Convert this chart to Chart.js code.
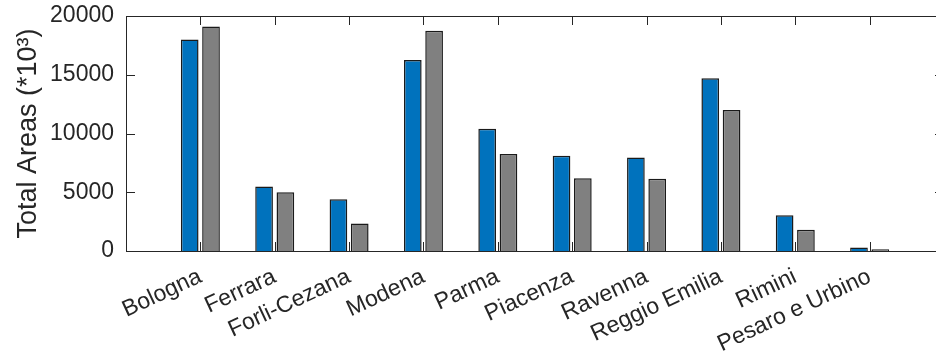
<!DOCTYPE html>
<html>
<head>
<meta charset="utf-8">
<script src="https://cdn.jsdelivr.net/npm/chart.js@4/dist/chart.umd.min.js"></script>
<style>
  html, body { margin: 0; padding: 0; overflow: hidden; background: #fff; }
  #wrap { width: 960px; height: 353px; }
</style>
</head>
<body>
<div id="wrap"><canvas id="areaChart" width="960" height="353"></canvas></div>
<script>
// total areas per province, in thousands
const provinces = ['Bologna', 'Ferrara', 'Forli-Cezana', 'Modena', 'Parma', 'Piacenza', 'Ravenna', 'Reggio Emilia', 'Rimini', 'Pesaro e Urbino'];
const areasBlue = [18000, 5500, 4400, 16250, 10400, 8100, 7950, 14700, 3050, 300];
const areasGray = [19100, 5000, 2350, 18750, 8250, 6200, 6150, 12000, 1800, 150];
const yTicks = [0, 5000, 10000, 15000, 20000];

const axisColor = '#262626';
const fontFamily = "'Liberation Sans', Arial, sans-serif";
const tickLen = 9;

// an empty slot on each side puts the groups at 1..10 on a 0..11 axis
const labels = [''].concat(provinces, ['']);
const pad = arr => [null].concat(arr, [null]);

// box around the plot with inward tick marks
const boxTicks = {
  id: 'boxTicks',
  afterDraw(chart) {
    const { ctx, chartArea: a, scales: { x, y } } = chart;
    ctx.save();
    ctx.strokeStyle = axisColor;
    ctx.lineWidth = 1;
    ctx.strokeRect(a.left + 0.5, a.top + 0.5, a.right - a.left, a.bottom - a.top);
    ctx.beginPath();
    for (let i = 1; i <= provinces.length; i++) {
      const px = Math.round(x.getPixelForValue(i)) + 0.5;
      ctx.moveTo(px, a.top); ctx.lineTo(px, a.top + tickLen);
      ctx.moveTo(px, a.bottom); ctx.lineTo(px, a.bottom - tickLen);
    }
    yTicks.forEach(v => {
      const py = Math.round(y.getPixelForValue(v)) + 0.5;
      ctx.moveTo(a.left, py); ctx.lineTo(a.left + tickLen, py);
      ctx.moveTo(a.right, py); ctx.lineTo(a.right - tickLen, py);
    });
    ctx.stroke();
    ctx.restore();
  }
};

// keep label overhang from pushing the plot area around
const noPadding = s => {
  s.paddingLeft = 0; s.paddingRight = 0;
  s.paddingTop = 0; s.paddingBottom = 0;
};

new Chart(document.getElementById('areaChart'), {
  type: 'bar',
  data: {
    labels: labels,
    datasets: [{
      data: pad(areasBlue),
      backgroundColor: '#0072BD',
      borderColor: '#1a1a1a',
      borderWidth: 1.5,
      categoryPercentage: 0.573,
      barPercentage: 0.83
    }, {
      data: pad(areasGray),
      backgroundColor: '#808080',
      borderColor: '#1a1a1a',
      borderWidth: 1.5,
      categoryPercentage: 0.573,
      barPercentage: 0.83
    }]
  },
  options: {
    responsive: false,
    animation: false,
    layout: { padding: { top: 16, right: 16, left: 0, bottom: 0 } },
    plugins: {
      legend: { display: false },
      tooltip: { enabled: false }
    },
    scales: {
      x: {
        offset: false,
        grid: { display: false, drawTicks: false },
        border: { display: false },
        ticks: {
          autoSkip: false,
          minRotation: 25,
          maxRotation: 25,
          padding: 12,
          color: axisColor,
          font: { family: fontFamily, size: 23 }
        },
        afterFit: s => { noPadding(s); s.height = 102; }
      },
      y: {
        min: 0,
        max: 20000,
        afterBuildTicks: s => { s.ticks = yTicks.map(v => ({ value: v })); },
        grid: { display: false, drawTicks: false },
        border: { display: false },
        ticks: {
          padding: 12,
          color: axisColor,
          font: { family: fontFamily, size: 23 },
          callback: v => String(v)
        },
        title: {
          display: true,
          text: 'Total Areas (*10³)',
          color: axisColor,
          padding: { top: 12, bottom: 0 },
          font: { family: fontFamily, size: 27 }
        },
        afterFit: s => { noPadding(s); s.width = 126; }
      }
    }
  },
  plugins: [boxTicks]
});
</script>
</body>
</html>
